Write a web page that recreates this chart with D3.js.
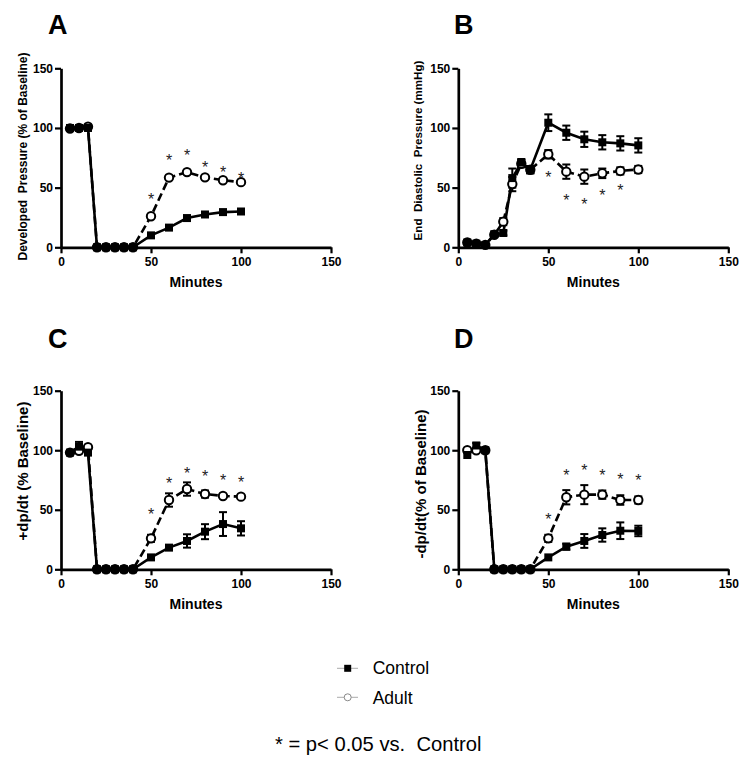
<!DOCTYPE html>
<html>
<head>
<meta charset="utf-8">
<script src="https://cdn.jsdelivr.net/npm/d3@7"></script>
<style>
  html, body { margin: 0; padding: 0; background: #fff; }
  svg { display: block; }
  text { font-family: "Liberation Sans", Arial, Helvetica, sans-serif; }
</style>
</head>
<body>
<svg id="chart" width="749" height="762"></svg>
<script>
// ---------- data ----------
const times = [5, 10, 15, 20, 25, 30, 35, 40, 50, 60, 70, 80, 90, 100];
const xTicks = [0, 50, 100, 150];
const yTicks = [0, 50, 100, 150];
const seriesNames = ["Control", "Adult"];

// Panel A: Developed Pressure (% of Baseline)
const aControl    = [100, 100, 100, 0, 0, 0, 0, 0, 10, 16.5, 24.5, 27.5, 29.5, 30];
const aControlErr = [1, 1, 1, 0, 0, 0, 0, 0, 1, 1, 1, 1, 1, 1];
const aAdult      = [99.5, 100, 101, 0, 0, 0, 0, 0, 26, 58.4, 63, 58.6, 56.2, 54.6];
const aAdultErr   = [1, 1, 1, 0, 0, 0, 0, 0, 1.5, 1.5, 1.5, 1.5, 1.5, 1.5];
const aStarTimes  = [50, 60, 70, 80, 90, 100];
const aStarY      = [43, 76, 80, 70, 65.6, 61.2];

// Panel B: End Diastolic Pressure (mmHg)
const bControl    = [4, 3, 2, 11, 12, 58, 71, 65, 104.4, 96, 90.5, 88, 87.1, 85.4];
const bControlErr = [1, 1, 1, 1.5, 2, 8, 3, 3, 7, 6, 6.4, 6, 6, 6];
const bAdult      = [4, 3, 2, 10.5, 21.5, 53, 70, 65, 78, 63.4, 59.2, 62, 64, 65.2];
const bAdultErr   = [1, 1, 1, 1.5, 3, 6, 3, 3, 3.5, 6, 6, 4, 3, 3];
const bStarTimes  = [50, 60, 70, 80, 90];
const bStarY      = [61.7, 42.4, 39, 46.6, 50.8];

// Panel C: +dp/dt (% Baseline)
const cControl    = [98, 103, 98, 0, 0, 0, 0, 0, 10, 18.2, 23.8, 31.6, 38, 34.4];
const cControlErr = [1, 4, 1, 0, 0, 0, 0, 0, 1, 2, 5.6, 6.3, 10, 6];
const cAdult      = [98, 99.5, 102.5, 0, 0, 0, 0, 0, 26, 58.2, 67.4, 63.2, 61.6, 61];
const cAdultErr   = [1, 2, 1, 0, 0, 0, 0, 0, 3, 5.6, 5.6, 3, 1.5, 1.5];
const cStarTimes  = [50, 60, 70, 80, 90, 100];
const cStarY      = [49, 75, 84, 81, 77.8, 75.8];

// Panel D: -dp/dt (% of Baseline)
const dControl    = [96, 104, 100, 0, 0, 0, 0, 0, 10, 19, 23.8, 28.8, 32.4, 32.2];
const dControlErr = [1, 2, 1, 0, 0, 0, 0, 0, 1, 2.5, 5.8, 5.6, 7, 4.4];
const dAdult      = [100, 100, 100, 0, 0, 0, 0, 0, 26, 60.5, 62.7, 62.7, 58.2, 58.2];
const dAdultErr   = [1, 1, 1, 0, 0, 0, 0, 0, 3, 6, 8, 3.5, 4, 3];
const dStarTimes  = [50, 60, 70, 80, 90, 100];
const dStarY      = [44.8, 82, 86.2, 81.7, 79, 77.8];

const panelLetters = ["A", "B", "C", "D"];
const yLabels = [
  "Developed  Pressure (% of Baseline)",
  "End  Diastolic  Pressure (mmHg)",
  "+dp/dt (% Baseline)",
  "-dp/dt(% of Baseline)"
];
const xLabel = "Minutes";
const footnote = "* = p< 0.05 vs.  Control";

// ---------- layout ----------
const panels = [
  { letter: panelLetters[0], ylab: yLabels[0], ctl: aControl, ctlErr: aControlErr, ad: aAdult, adErr: aAdultErr, st: aStarTimes, sy: aStarY,
    x0: 61, x1: 331, yTop: 68.3, yBot: 247.3, letterX: 48, letterY: 34.3, ylabX: 26.7, ylabY: 156.5, ylabSize: 12 },
  { letter: panelLetters[1], ylab: yLabels[1], ctl: bControl, ctlErr: bControlErr, ad: bAdult, adErr: bAdultErr, st: bStarTimes, sy: bStarY,
    x0: 458.3, x1: 728.3, yTop: 68.3, yBot: 247.3, letterX: 454, letterY: 34.3, ylabX: 421.7, ylabY: 150.5, ylabSize: 11.6 },
  { letter: panelLetters[2], ylab: yLabels[2], ctl: cControl, ctlErr: cControlErr, ad: cAdult, adErr: cAdultErr, st: cStarTimes, sy: cStarY,
    x0: 61, x1: 331, yTop: 390.7, yBot: 569.3, letterX: 48, letterY: 348, ylabX: 28.3, ylabY: 471, ylabSize: 15 },
  { letter: panelLetters[3], ylab: yLabels[3], ctl: dControl, ctlErr: dControlErr, ad: dAdult, adErr: dAdultErr, st: dStarTimes, sy: dStarY,
    x0: 458.3, x1: 728.3, yTop: 390.7, yBot: 569.3, letterX: 454, letterY: 348, ylabX: 426, ylabY: 484, ylabSize: 15 }
];

const svg = d3.select("#chart");

panels.forEach(p => {
  const x = d3.scaleLinear().domain([0, 150]).range([p.x0, p.x1]);
  const y = d3.scaleLinear().domain([0, 150]).range([p.yBot, p.yTop]);
  const g = svg.append("g");

  // panel letter
  g.append("text").attr("x", p.letterX).attr("y", p.letterY)
    .attr("font-size", 27).attr("font-weight", "bold").text(p.letter);

  // axes
  const yAxis = g.append("g").attr("transform", `translate(${p.x0},0)`)
    .call(d3.axisLeft(y).tickValues(yTicks).tickSize(6).tickSizeOuter(0).tickPadding(2));
  const xAxis = g.append("g").attr("transform", `translate(0,${p.yBot})`)
    .call(d3.axisBottom(x).tickValues(xTicks).tickSize(6).tickSizeOuter(0).tickPadding(4));
  [yAxis, xAxis].forEach(a => {
    a.select(".domain").attr("stroke", "#000").attr("stroke-width", 2.7);
    a.selectAll(".tick line").attr("stroke", "#000").attr("stroke-width", 2.2);
    a.selectAll(".tick text").attr("font-size", 12).attr("font-weight", "bold")
      .attr("fill", "#000").attr("font-family", '"Liberation Sans", Arial, sans-serif');
  });

  // axis labels
  g.append("text").attr("transform", `translate(${p.ylabX},${p.ylabY}) rotate(-90)`)
    .attr("text-anchor", "middle").attr("font-size", p.ylabSize).attr("font-weight", "bold")
    .style("white-space", "pre").text(p.ylab);
  g.append("text").attr("x", (p.x0 + p.x1) / 2).attr("y", p.yBot + 40)
    .attr("text-anchor", "middle").attr("font-size", 14).attr("font-weight", "bold").text(xLabel);

  const ctlData = times.map((t, i) => ({ t, v: p.ctl[i], e: p.ctlErr[i] }));
  const adData = times.map((t, i) => ({ t, v: p.ad[i], e: p.adErr[i] }));
  const line = d3.line().x(d => x(d.t)).y(d => y(d.v));

  // error bars
  const drawErr = (data) => {
    const eg = g.append("g").attr("stroke", "#000").attr("stroke-width", 2);
    data.filter(d => d.e >= 1.5).forEach(d => {
      eg.append("line").attr("x1", x(d.t)).attr("x2", x(d.t)).attr("y1", y(d.v - d.e)).attr("y2", y(d.v + d.e));
      [d.v - d.e, d.v + d.e].forEach(v => {
        eg.append("line").attr("x1", x(d.t) - 4).attr("x2", x(d.t) + 4).attr("y1", y(v)).attr("y2", y(v));
      });
    });
  };
  drawErr(adData);
  drawErr(ctlData);

  // lines
  g.append("path").datum(adData).attr("d", line).attr("fill", "none")
    .attr("stroke", "#000").attr("stroke-width", 2.6).attr("stroke-dasharray", "8,4");
  g.append("path").datum(ctlData).attr("d", line).attr("fill", "none")
    .attr("stroke", "#000").attr("stroke-width", 2.6);

  // markers
  g.selectAll(".ad").data(adData).enter().append("circle")
    .attr("cx", d => x(d.t)).attr("cy", d => y(d.v)).attr("r", 4.2)
    .attr("fill", "#fff").attr("stroke", "#000").attr("stroke-width", 2);
  g.selectAll(".ct").data(ctlData).enter().append("rect")
    .attr("x", d => x(d.t) - 4).attr("y", d => y(d.v) - 4).attr("width", 8).attr("height", 8)
    .attr("fill", "#000");

  // significance asterisks
  const fs = 16;
  g.selectAll(".star").data(p.st.map((t, i) => ({ t, v: p.sy[i] }))).enter().append("text")
    .attr("x", d => x(d.t)).attr("y", d => y(d.v) + fs * 0.585)
    .attr("text-anchor", "middle").attr("font-size", fs).attr("fill", "#222").text("*");
});

// ---------- legend ----------
const leg = svg.append("g");
const legendY = [668.3, 697.3];
// Control
leg.append("line").attr("x1", 337).attr("x2", 358).attr("y1", legendY[0]).attr("y2", legendY[0])
  .attr("stroke", "#aaa").attr("stroke-width", 1);
leg.append("rect").attr("x", 347.7 - 3.5).attr("y", legendY[0] - 3.5).attr("width", 7).attr("height", 7).attr("fill", "#000");
leg.append("text").attr("x", 372.7).attr("y", legendY[0] + 6).attr("font-size", 17.5).text(seriesNames[0]);
// Adult
leg.append("line").attr("x1", 337).attr("x2", 358).attr("y1", legendY[1]).attr("y2", legendY[1])
  .attr("stroke", "#aaa").attr("stroke-width", 1);
leg.append("circle").attr("cx", 347.7).attr("cy", legendY[1]).attr("r", 3.5)
  .attr("fill", "#fff").attr("stroke", "#888").attr("stroke-width", 1);
leg.append("text").attr("x", 372.7).attr("y", legendY[1] + 6.7).attr("font-size", 17.5).text(seriesNames[1]);

// footnote
svg.append("text").attr("x", 275).attr("y", 751).attr("font-size", 20.2)
  .style("white-space", "pre").text(footnote);
</script>
</body>
</html>
